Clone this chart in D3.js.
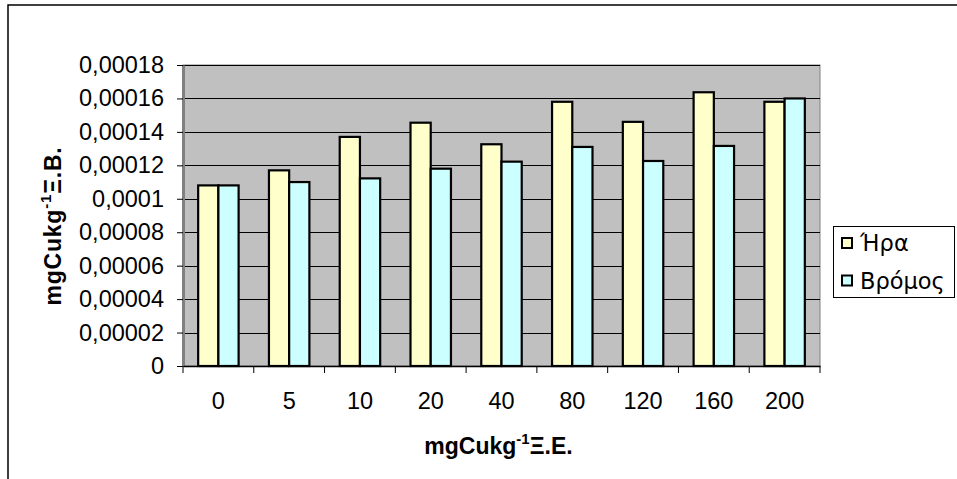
<!DOCTYPE html>
<html>
<head>
<meta charset="utf-8">
<script src="https://cdn.jsdelivr.net/npm/d3@7"></script>
<style>
  body { margin: 0; background: #fff; }
  svg { display: block; }
</style>
</head>
<body>
<div id="chart"></div>
<script>
var categories = ["0", "5", "10", "20", "40", "80", "120", "160", "200"];
var seriesNames = ["Ήρα", "Βρόμος"];
var iraValues = [0.000108, 0.000117, 0.000137, 0.0001455, 0.0001326, 0.000158, 0.000146, 0.0001637, 0.000158];
var vromosValues = [0.000108, 0.00011, 0.0001122, 0.000118, 0.0001222, 0.000131, 0.0001226, 0.0001316, 0.00016];
var yTicks = [0, 0.00002, 0.00004, 0.00006, 0.00008, 0.0001, 0.00012, 0.00014, 0.00016, 0.00018];

var colors = ["#FFFFCC", "#CCFFFF"];

var width = 957, height = 479;
var plot = { left: 183, top: 65, right: 820, bottom: 366 };

var svg = d3.select("#chart")
  .append("svg")
  .attr("width", width)
  .attr("height", height);

// outer chart frame (cut off at right and bottom)
svg.append("rect")
  .attr("x", 8)
  .attr("y", 5)
  .attr("width", 980)
  .attr("height", 500)
  .attr("fill", "#fff")
  .attr("stroke", "#000")
  .attr("stroke-width", 1.5);

var x = d3.scaleBand()
  .domain(categories)
  .range([plot.left, plot.right]);

var xs = d3.scaleBand()
  .domain(seriesNames)
  .range([0, x.bandwidth()])
  .paddingInner(0)
  .paddingOuter(0.75);

var y = d3.scaleLinear()
  .domain([0, 0.00018])
  .range([plot.bottom, plot.top]);

var locale = d3.formatLocale({ decimal: ",", thousands: ".", grouping: [3], currency: ["", ""] });
var fmt = locale.format("~f");

// plot area
svg.append("rect")
  .attr("x", plot.left)
  .attr("y", plot.top)
  .attr("width", plot.right - plot.left)
  .attr("height", plot.bottom - plot.top)
  .attr("fill", "#C0C0C0")
  .attr("stroke", "#808080")
  .attr("stroke-width", 1);

// gridlines
svg.append("g")
  .selectAll("line")
  .data(yTicks.slice(1))
  .enter().append("line")
  .attr("x1", plot.left)
  .attr("x2", plot.right)
  .attr("y1", function(d) { return Math.round(y(d)) + 0.5; })
  .attr("y2", function(d) { return Math.round(y(d)) + 0.5; })
  .attr("stroke", "#000")
  .attr("stroke-width", 1);

// bars
var rows = categories.map(function(c, i) {
  return { cat: c, values: [iraValues[i], vromosValues[i]] };
});

var groups = svg.append("g")
  .selectAll("g")
  .data(rows)
  .enter().append("g")
  .attr("transform", function(d) { return "translate(" + x(d.cat) + ",0)"; });

groups.selectAll("rect")
  .data(function(d) {
    return d.values.map(function(v, j) { return { name: seriesNames[j], value: v, idx: j }; });
  })
  .enter().append("rect")
  .attr("x", function(d) { return xs(d.name); })
  .attr("y", function(d) { return y(d.value); })
  .attr("width", xs.bandwidth())
  .attr("height", function(d) { return y(0) - y(d.value); })
  .attr("fill", function(d) { return colors[d.idx]; })
  .attr("stroke", "#000")
  .attr("stroke-width", 2.2);

// y axis
var yAxis = svg.append("g")
  .attr("transform", "translate(" + plot.left + ",0)")
  .call(d3.axisLeft(y).tickValues(yTicks).tickFormat(fmt).tickSize(6).tickSizeOuter(0).tickPadding(13));

yAxis.select(".domain").attr("stroke", "#808080").attr("stroke-width", 3);
yAxis.selectAll(".tick line").attr("stroke", "#000");
yAxis.selectAll("text")
  .attr("fill", "#000")
  .style("font-family", "'Liberation Sans', Arial, sans-serif")
  .style("font-size", "23.5px");

// x axis (labels at band centres, ticks at band edges)
var xAxis = svg.append("g")
  .attr("transform", "translate(0," + plot.bottom + ")")
  .call(d3.axisBottom(x).tickSize(0).tickPadding(26));

xAxis.select(".domain").attr("stroke", "#000").attr("stroke-width", 1.5);
xAxis.selectAll("text")
  .attr("fill", "#000")
  .style("font-family", "'Liberation Sans', Arial, sans-serif")
  .style("font-size", "23.5px");

xAxis.selectAll(".edge-tick")
  .data(categories.map(function(c) { return x(c); }).concat([plot.right]))
  .enter().append("line")
  .attr("class", "edge-tick")
  .attr("x1", function(d) { return d; })
  .attr("x2", function(d) { return d; })
  .attr("y1", 0)
  .attr("y2", 7)
  .attr("stroke", "#000")
  .attr("stroke-width", 1);

// axis titles
var xTitle = svg.append("text")
  .attr("x", (plot.left + plot.right) / 2 - 3)
  .attr("y", 454)
  .attr("text-anchor", "middle")
  .style("font-family", "'Liberation Sans', Arial, sans-serif")
  .style("font-size", "23px")
  .style("font-weight", "bold");
xTitle.append("tspan").text("mgCukg");
xTitle.append("tspan").attr("dy", -10).style("font-size", "15px").text("-1");
xTitle.append("tspan").attr("dy", 10).text("Ξ.Ε.");

var yTitle = svg.append("text")
  .attr("transform", "translate(61,226) rotate(-90)")
  .attr("text-anchor", "middle")
  .style("font-family", "'Liberation Sans', Arial, sans-serif")
  .style("font-size", "23px")
  .style("font-weight", "bold")
  .style("letter-spacing", "0.8px");
yTitle.append("tspan").text("mgCukg");
yTitle.append("tspan").attr("dy", -10).style("font-size", "15px").text("-1");
yTitle.append("tspan").attr("dy", 10).text("Ξ.Β.");

// legend
var legend = svg.append("g");
legend.append("rect")
  .attr("x", 833.5)
  .attr("y", 226.5)
  .attr("width", 121)
  .attr("height", 71)
  .attr("fill", "#fff")
  .attr("stroke", "#000")
  .attr("stroke-width", 1);

var items = legend.selectAll(".item")
  .data(seriesNames)
  .enter().append("g")
  .attr("class", "item")
  .attr("transform", function(d, i) { return "translate(0," + (243 + i * 37.5) + ")"; });

items.append("rect")
  .attr("x", 842)
  .attr("y", -5)
  .attr("width", 10)
  .attr("height", 10)
  .attr("fill", function(d, i) { return colors[i]; })
  .attr("stroke", "#000")
  .attr("stroke-width", 2);

items.append("text")
  .attr("x", 860)
  .attr("y", 0)
  .attr("dy", "0.36em")
  .style("font-family", "'DejaVu Sans', Verdana, sans-serif")
  .style("font-size", "22.5px")
  .text(function(d) { return d; });
</script>
</body>
</html>
